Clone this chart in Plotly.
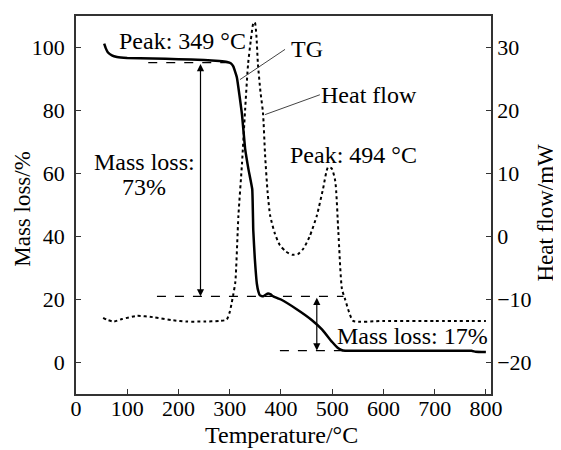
import plotly.graph_objects as go

# TG data (left axis)
tg_temp = [55, 58, 62, 70, 80, 100, 150, 200, 250, 280, 295, 302, 307, 314, 324, 330, 337, 344, 346, 349,
           353, 356, 359, 365, 370, 375, 380, 385, 400, 430, 460, 480, 500, 512, 521, 600, 700, 772, 780, 800]
tg_mass = [101.2, 99.8, 98.5, 97.5, 97.0, 96.7, 96.5, 96.3, 96.0, 95.7, 95.4, 95.0, 94.0, 90.5, 78.7, 68, 61, 55, 42, 33,
           25, 22.5, 21.3, 21.0, 21.5, 21.9, 21.6, 21.0, 20.0, 17.0, 13.5, 10.5, 6.5, 4.5, 3.8, 3.7, 3.7, 3.7, 3.4, 3.3]

# Heat flow data (right axis)
hf_temp = [53, 60, 73, 90, 119, 150, 190, 216, 250, 280, 294, 300, 304, 307, 311, 317, 324, 330, 336, 341, 346, 349,
           352, 355, 360, 365, 369, 374, 379, 388, 398, 410, 422, 433, 444, 456, 470, 482, 492, 499, 506, 512, 519,
           525, 533, 541, 600, 700, 800]
hf_val = [-12.9, -13.2, -13.5, -13.1, -12.6, -12.8, -13.3, -13.5, -13.5, -13.4, -13.2, -12, -10.5, -9.2, -7.2, 3.3,
          11.6, 20, 27.5, 31, 33.8, 34, 32, 27.5, 23, 19.6, 13, 7, 3.3, 0.5, -1.4, -2.4, -2.9, -2.8, -1.9, 0, 3.3,
          7.5, 11, 10.8, 8.8, 0.8, -8.3, -9.9, -12, -13.4, -13.4, -13.4, -13.4]

x_ticks = [0, 100, 200, 300, 400, 500, 600, 700, 800]
left_ticks = [0, 20, 40, 60, 80, 100]
right_ticks = [-20, -10, 0, 10, 20, 30]

# reference levels
mass_start = 95.2
mass_mid = 21.0
mass_end = 3.8

FONT = "Liberation Serif"
fig = go.Figure()

fig.add_trace(go.Scatter(x=hf_temp, y=hf_val, yaxis="y2", mode="lines",
                         line=dict(color="black", width=2, dash="dot", shape="spline", smoothing=0.6),
                         showlegend=False))
fig.add_trace(go.Scatter(x=tg_temp, y=tg_mass, mode="lines",
                         line=dict(color="black", width=2.5, shape="spline", smoothing=0.3),
                         showlegend=False))

# dashed reference lines
for x0, x1, yv in [(141, 304, mass_start), (158, 522, mass_mid), (398, 521, mass_end)]:
    fig.add_shape(type="line", x0=x0, x1=x1, y0=yv, y1=yv, xref="x", yref="y",
                  line=dict(color="black", width=1.2, dash="dash"))

# leader lines
fig.add_shape(type="line", x0=320, y0=89.8, x1=408, y1=99.4, xref="x", yref="y",
              line=dict(color="#444", width=1))
fig.add_shape(type="line", x0=369, y0=78.7, x1=476, y1=85, xref="x", yref="y",
              line=dict(color="#444", width=1))

# double arrows
for xv, y0, y1 in [(243, mass_start, mass_mid), (470, mass_mid, mass_end)]:
    fig.add_annotation(x=xv, y=y1, ax=xv, ay=y0, xref="x", yref="y", axref="x", ayref="y",
                       showarrow=True, arrowhead=2, arrowsize=1.2, arrowwidth=1.2, arrowcolor="black",
                       arrowside="end+start", text="")

tf = dict(family=FONT, size=24, color="black")
fig.add_annotation(x=207, y=102, text="Peak: 349 °C", showarrow=False, font=tf)
fig.add_annotation(x=416, y=99.4, text="TG", showarrow=False, font=tf, xanchor="left")
fig.add_annotation(x=475, y=85, text="Heat flow", showarrow=False, font=tf, xanchor="left")
fig.add_annotation(x=542, y=66, text="Peak: 494 °C", showarrow=False, font=tf)
fig.add_annotation(x=133, y=63.8, text="Mass loss:", showarrow=False, font=tf)
fig.add_annotation(x=133, y=55.6, text="73%", showarrow=False, font=tf)
fig.add_annotation(x=656, y=8.3, text="Mass loss: 17%", showarrow=False, font=tf)

# axis titles
fig.add_annotation(x=0.494, y=0, xref="paper", yref="paper", yshift=-41, text="Temperature/°C",
                   showarrow=False, font=dict(family=FONT, size=24), yanchor="middle")
fig.add_annotation(x=0, y=0.49, xref="paper", yref="paper", xshift=-53, text="Mass loss/%", textangle=-90,
                   showarrow=False, font=dict(family=FONT, size=23), xanchor="center", yanchor="middle")
fig.add_annotation(x=1, y=0.48, xref="paper", yref="paper", xshift=55, text="Heat flow/mW", textangle=-90,
                   showarrow=False, font=dict(family=FONT, size=23), xanchor="center", yanchor="middle")

axis_common = dict(showline=True, linecolor="#333", linewidth=1.5, ticks="inside", ticklen=5,
                   tickcolor="#333", tickwidth=1.2, showgrid=False, zeroline=False, automargin=False,
                   tickfont=dict(family=FONT, size=22, color="black"))

# page body adds an 8px offset, so the figure is sized to fit the 561x450 window
fig.update_layout(
    width=553, height=442,
    margin=dict(l=68, r=70, t=8, b=56),
    plot_bgcolor="white", paper_bgcolor="white",
    font=dict(family=FONT, size=22, color="black"),
    xaxis=dict(range=[0, 810], tickvals=x_ticks, mirror=True, ticklabelstandoff=-6, **axis_common),
    yaxis=dict(range=[-10, 110], tickvals=left_ticks, ticklabelstandoff=5, **axis_common),
    yaxis2=dict(range=[-25, 35], tickvals=right_ticks, overlaying="y", side="right", **axis_common),
)

fig.write_html("out.html")
